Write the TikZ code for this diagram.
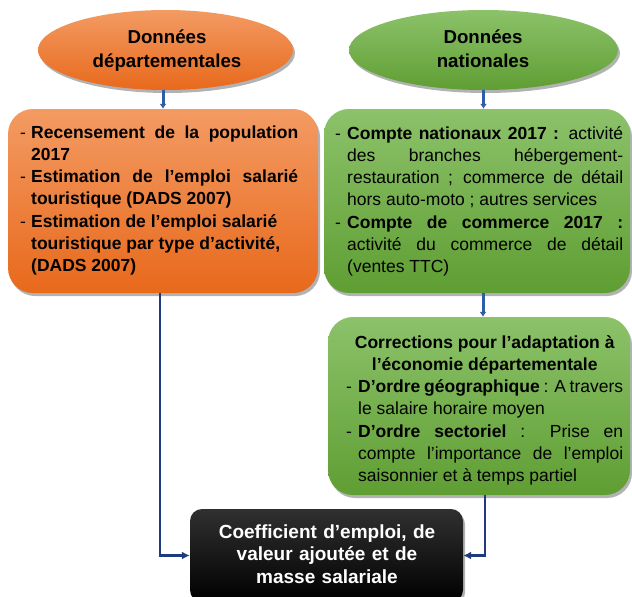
\documentclass[tikz,border=0pt]{standalone}
\usepackage{fontspec}
\setmainfont{Liberation Sans}
\usetikzlibrary{shapes.geometric,shadows,arrows.meta,calc}
\definecolor{orT}{HTML}{F39B63}
\definecolor{orB}{HTML}{E8691C}
\definecolor{grT}{HTML}{8CC26A}
\definecolor{grB}{HTML}{5F9E33}
\definecolor{blkT}{HTML}{303030}
\definecolor{arrc}{HTML}{1F3B80}
\definecolor{arrs}{HTML}{2F5DA8}
\tolerance=10000
\hbadness=10000
\newcommand\itmA[1]{\noindent\hangindent=#1\hangafter=1\makebox[#1][l]{\mdseries -}}
\newcommand\itm[1]{\par\itmA{#1}}
\tikzset{
 shad/.style={drop shadow={shadow xshift=2pt,shadow yshift=-3pt,opacity=0.3,fill=black}},
 orfill/.style={top color=orT,bottom color=orB},
 grfill/.style={top color=grT,bottom color=grB},
 ell/.style={ellipse,shad,inner sep=0pt},
 card/.style={rectangle,rounded corners=25pt,shad,inner sep=0pt},
 txt/.style={anchor=base west,inner sep=0pt,align=justify},
 ttl/.style={anchor=base,inner sep=0pt,align=center,font=\fontsize{18.7}{24}\selectfont\bfseries},
 arr/.style={draw=arrc,line width=2.2pt,-{Latex[length=8pt,width=8pt]}},
 sarr/.style={draw=arrs,line width=3pt,-{Latex[length=5pt,width=7pt]}},
}
\newcommand\bodyfont{\fontsize{17.5}{22.3}\selectfont}
\begin{document}
\begin{tikzpicture}[x=1pt,y=-1pt]
\useasboundingbox (0,0) rectangle (632,597);
% ellipses
\node[ell,orfill,minimum width=255pt,minimum height=80pt] (ellL) at (165.5,50) {};
\node[ttl,text width=240pt] (ellLt) at (167,43) {Données\\départementales};
\node[ell,grfill,minimum width=269pt,minimum height=80pt] (ellR) at (483.5,50) {};
\node[ttl,text width=240pt] (ellRt) at (483,43) {Données\\nationales};
% boxes
\node[card,orfill,minimum width=310pt,minimum height=184pt] (boxL) at (163,201) {};
\node[txt,text width=278pt,font=\bodyfont\bfseries] (boxLt) at (20,138) {%
\itmA{11pt}Recensement de la population\linebreak 2017
\itm{11pt}Estimation de l’emploi salarié\linebreak touristique (DADS 2007)
\itm{11pt}Estimation de l’emploi salarié\newline touristique par type d’activité,\newline (DADS 2007)\par};
\node[card,grfill,minimum width=306pt,minimum height=184pt] (boxR) at (477,201) {};
\node[txt,text width=288pt,font=\bodyfont] (boxRt) at (335,139) {%
\itmA{12pt}\textbf{Compte nationaux 2017~:} activité\linebreak des branches hébergement-\linebreak restauration ; commerce de détail\linebreak hors auto-moto ; autres services
\itm{12pt}\textbf{Compte de commerce 2017~:}\linebreak activité du commerce de détail\linebreak (ventes TTC)\par};
\node[card,grfill,minimum width=302pt,minimum height=178pt] (corr) at (479,406) {};
\node[txt,text width=277pt,font=\bodyfont] (corrt) at (346,348) {%
{\centering\bfseries Corrections pour l’adaptation à\\ l’économie départementale\par}
\itm{12pt}\textbf{D’ordre géographique} : A travers\linebreak le salaire horaire moyen
\itm{12pt}\textbf{D’ordre sectoriel} : Prise en\linebreak compte l’importance de l’emploi\linebreak saisonnier et à temps partiel\par};
\node[rectangle,rounded corners=12pt,top color=blkT,bottom color=black,shad,minimum width=273pt,minimum height=93pt,inner sep=0pt] (out) at (326.5,555.5) {};
\node[anchor=base,inner sep=0pt,align=center,text width=270pt,text=white,font=\fontsize{19}{22.5}\selectfont\bfseries] (outt) at (327,538) {Coefficient d’emploi, de\\valeur ajoutée et de\\masse salariale};
% connectors
\draw[sarr] ([xshift=-2.5pt]ellL.south) -- (boxL.north);
\draw[sarr] (ellR.south) -- (boxR.north -| ellR.south);
\draw[sarr] ([xshift=6pt]boxR.south) -- ([xshift=6pt]boxR.south |- corr.north);
\draw[arr] ([xshift=-3pt]boxL.south) |- (out.west);
\draw[arr] ([xshift=6pt]corr.south) |- (out.east);
\end{tikzpicture}
\end{document}
